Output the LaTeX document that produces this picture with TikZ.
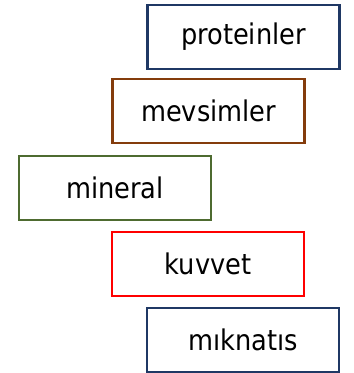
\documentclass[tikz,border=0pt]{standalone}
\usepackage{fontspec}
\setmainfont{DejaVu Sans Condensed}
\usepackage{tikz}
\usepackage{xcolor}
\usetikzlibrary{positioning}

\definecolor{navyline}{HTML}{1F3864}
\definecolor{brownline}{HTML}{843C0C}
\definecolor{greenline}{HTML}{4E6B30}
\definecolor{redline}{HTML}{FF0000}

\begin{document}
\begin{tikzpicture}[x=1pt,y=-1pt,
    wordbox/.style={draw,line width=2.5pt,fill=white,minimum width=192pt,minimum height=64pt,inner sep=0pt,font=\fontsize{28.5}{30}\selectfont}]
    \useasboundingbox (0,0) rectangle (354,373);
    \node[wordbox,draw=navyline] at (243.5,37) (proteinler) {proteinler};
    \node[wordbox,draw=brownline] at (208.5,111) (mevsimler) {mevsimler};
    \node[wordbox,draw=greenline] at (115,188) (mineral) {mineral};
    \node[wordbox,draw=redline] at (208,264) (kuvvet) {kuvvet};
    \node[wordbox,draw=navyline] at (243,340) (miknatis) {mıknatıs};
\end{tikzpicture}
\end{document}
